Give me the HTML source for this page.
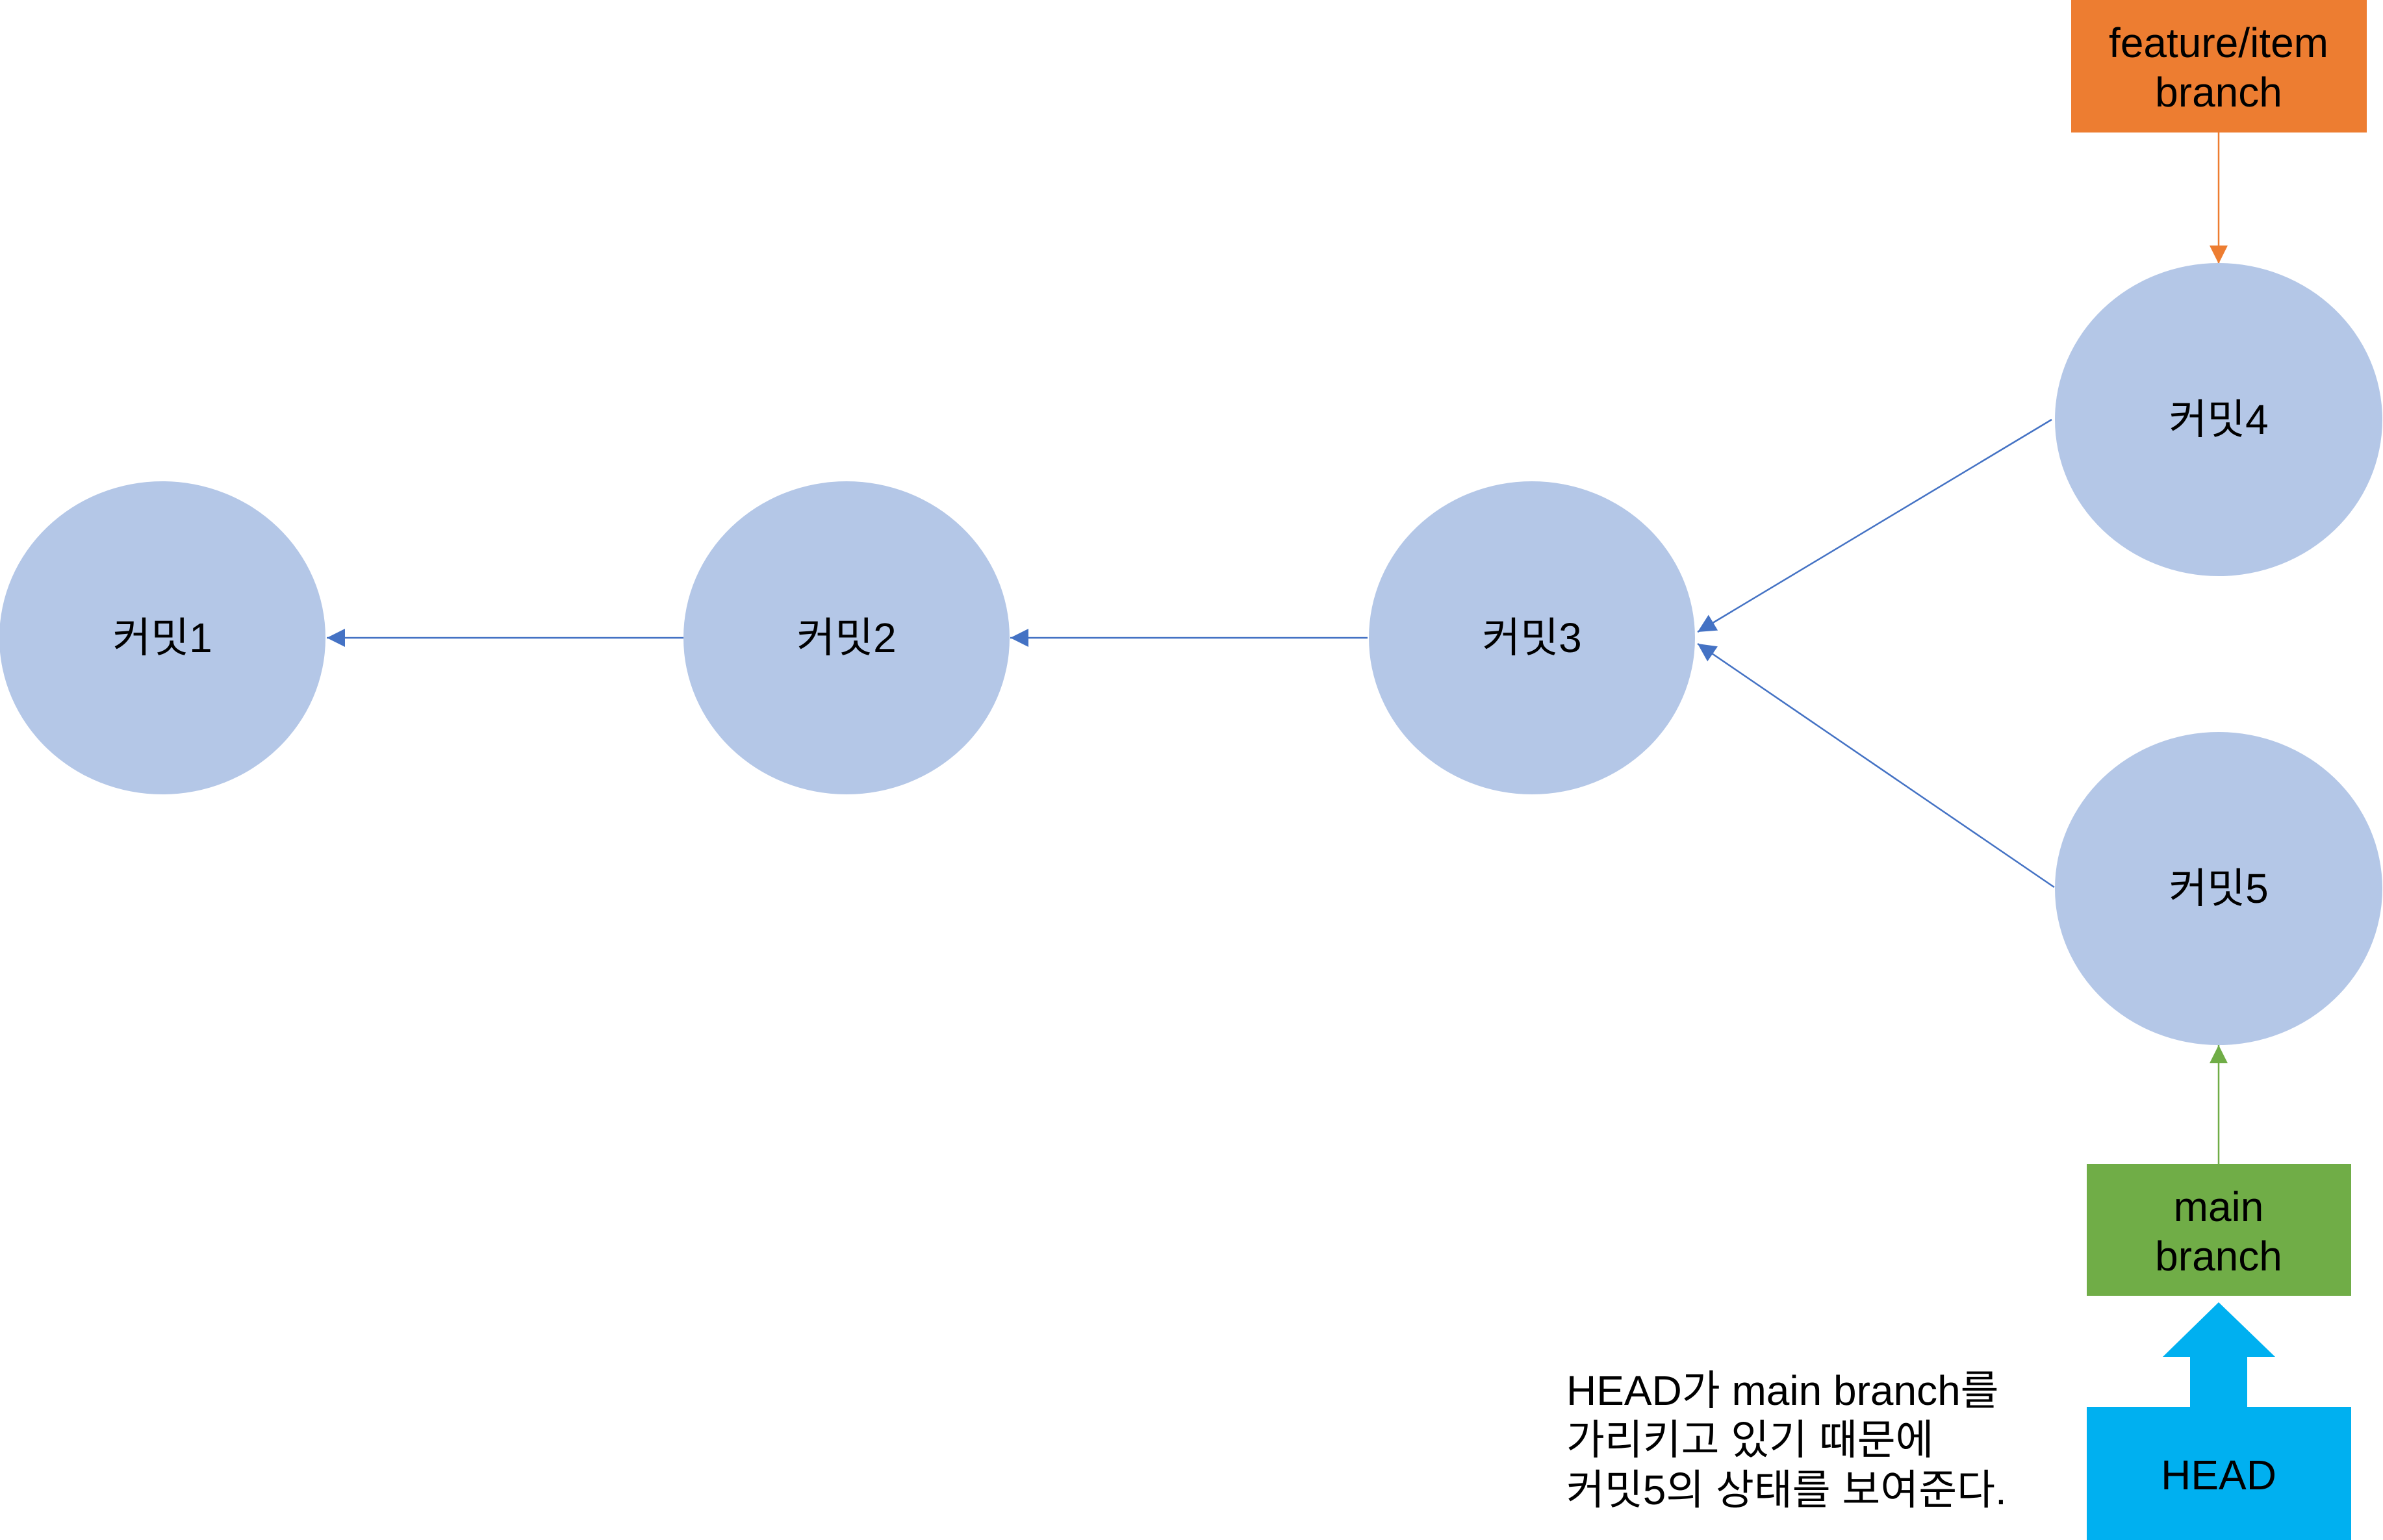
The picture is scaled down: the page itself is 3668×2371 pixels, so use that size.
<!DOCTYPE html>
<html><head><meta charset="utf-8"><style>
html,body{margin:0;padding:0;background:#fff;}
svg{display:block;}
text{font-family:"Liberation Sans","Noto Sans CJK KR",sans-serif;fill:#000;}
</style></head><body>
<svg width="3668" height="2371" viewBox="0 0 3668 2371">
<defs>
<marker id="ab" markerWidth="10" markerHeight="10" refX="9" refY="5" orient="auto" markerUnits="userSpaceOnUse" viewBox="0 0 10 10" style="overflow:visible"><path d="M0,0 L10,5 L0,10 z" fill="#4472C4" transform="scale(2.6) translate(-6,-3.1)"/></marker>
<marker id="ao" viewBox="0 0 10 10" refX="10" refY="5" markerWidth="28" markerHeight="28" markerUnits="userSpaceOnUse" orient="auto"><path d="M0,0 L10,5 L0,10 z" fill="#ED7D31"/></marker>
<marker id="ag" viewBox="0 0 10 10" refX="10" refY="5" markerWidth="28" markerHeight="28" markerUnits="userSpaceOnUse" orient="auto"><path d="M0,0 L10,5 L0,10 z" fill="#70AD47"/></marker>
<marker id="abl" viewBox="0 0 10 10" refX="10" refY="5" markerWidth="28" markerHeight="28" markerUnits="userSpaceOnUse" orient="auto"><path d="M0,0 L10,5 L0,10 z" fill="#4472C4"/></marker>
</defs>
<g stroke="#4472C4" stroke-width="2.5">
<line x1="1052" y1="982" x2="503" y2="982" marker-end="url(#abl)"/>
<line x1="2105" y1="982" x2="1555" y2="982" marker-end="url(#abl)"/>
<line x1="3158" y1="646" x2="2613" y2="973" marker-end="url(#abl)"/>
<line x1="3162" y1="1366" x2="2613" y2="991" marker-end="url(#abl)"/>
</g>
<line x1="3415" y1="204" x2="3415" y2="406" stroke="#ED7D31" stroke-width="2.5" marker-end="url(#ao)"/>
<line x1="3415" y1="1792" x2="3415" y2="1609" stroke="#70AD47" stroke-width="2.5" marker-end="url(#ag)"/>
<g font-size="64" text-anchor="middle">
<g><ellipse cx="250" cy="982" rx="251" ry="241" fill="#B4C7E7"/><text x="250" y="1004">커밋1</text></g>
<g><ellipse cx="1303" cy="982" rx="251" ry="241" fill="#B4C7E7"/><text x="1303" y="1004">커밋2</text></g>
<g><ellipse cx="2358" cy="982" rx="251" ry="241" fill="#B4C7E7"/><text x="2358" y="1004">커밋3</text></g>
<g><ellipse cx="3415" cy="646" rx="252" ry="241" fill="#B4C7E7"/><text x="3415" y="668">커밋4</text></g>
<g><ellipse cx="3415" cy="1368" rx="252" ry="241" fill="#B4C7E7"/><text x="3415" y="1390">커밋5</text></g>
<g><rect x="3188" y="0" width="455" height="204" fill="#ED7D31"/><text x="3415" y="88">feature/item</text><text x="3415" y="164">branch</text></g>
<g><rect x="3212" y="1792" width="407" height="203" fill="#70AD47"/><text x="3415" y="1880">main</text><text x="3415" y="1956">branch</text></g>
<g><rect x="3212" y="2166" width="407" height="205" fill="#00B0F0"/><text x="3415" y="2293">HEAD</text></g>
</g>
<path d="M3415,2005 L3502,2089 L3459,2089 L3459,2166 L3371,2166 L3371,2089 L3329,2089 Z" fill="#00B0F0"/>
<g font-size="64">
<text x="2411" y="2163">HEAD가 main branch를</text>
<text x="2411" y="2239">가리키고 있기 때문에</text>
<text x="2411" y="2316">커밋5의 상태를 보여준다.</text>
</g>
</svg>
</body></html>
